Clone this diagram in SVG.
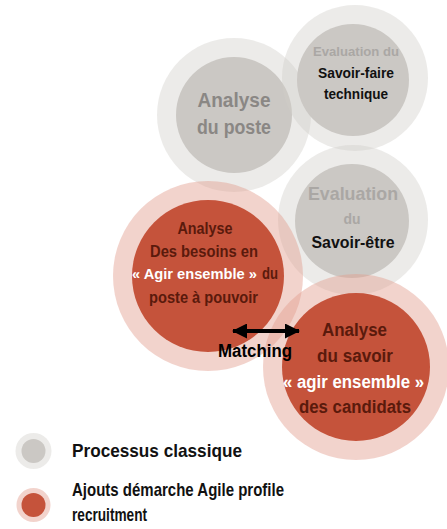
<svg xmlns="http://www.w3.org/2000/svg" width="447" height="529" viewBox="0 0 447 529">
<defs>
<style>
.go{fill:#d0ccc8;fill-opacity:.4}
.gi{fill:#cbc8c4}
.ro{fill:#e39e8e;fill-opacity:.45}
.ri{fill:#c5533b}
text{font-family:"Liberation Sans",Arial,sans-serif;font-weight:bold;text-anchor:middle}
.lg{fill:#8a8784;font-size:20px}
.sm{fill:#aaa7a4;font-size:13px}
.bk{fill:#111;font-size:15px}
.br{fill:#5a1a0c;font-size:16px}
.leg{fill:#111;font-size:19px;text-anchor:start}
</style>
<marker id="ah" viewBox="0 0 15 15" refX="14" refY="7.5" markerUnits="userSpaceOnUse" markerWidth="15" markerHeight="15" orient="auto-start-reverse"><path d="M0,0 L15,7.5 L0,15 z" fill="#000"/></marker>
</defs>
<g id="node-poste">
<circle class="go" cx="234" cy="115" r="77"/>
<circle class="gi" cx="234" cy="115" r="58"/>
<text class="lg" x="234" y="107" textLength="73" lengthAdjust="spacingAndGlyphs">Analyse</text>
<text class="lg" x="234" y="134" textLength="74" lengthAdjust="spacingAndGlyphs">du poste</text>
</g>
<g id="node-savoir-faire">
<circle class="go" cx="355" cy="78" r="73"/>
<circle class="gi" cx="353" cy="80" r="56"/>
<text class="sm" x="356" y="56" textLength="86" lengthAdjust="spacingAndGlyphs">Evaluation du</text>
<text class="bk" x="356" y="78" textLength="76" lengthAdjust="spacingAndGlyphs">Savoir-faire</text>
<text class="bk" x="356" y="99" textLength="64" lengthAdjust="spacingAndGlyphs">technique</text>
</g>
<g id="node-savoir-etre">
<circle class="go" cx="353" cy="220" r="75"/>
<circle class="gi" cx="352" cy="221" r="57"/>
<text class="sm" x="353" y="200" style="font-size:19px" textLength="90" lengthAdjust="spacingAndGlyphs">Evaluation</text>
<text class="sm" x="352" y="224" style="font-size:14px" textLength="17" lengthAdjust="spacingAndGlyphs">du</text>
<text class="bk" x="353" y="248" style="font-size:16px" textLength="83" lengthAdjust="spacingAndGlyphs">Savoir-être</text>
</g>
<g id="node-besoins">
<circle class="ro" cx="208" cy="276" r="95"/>
<circle class="ri" cx="208" cy="276" r="76"/>
<text class="br" x="205" y="234" textLength="55" lengthAdjust="spacingAndGlyphs">Analyse</text>
<text class="br" x="204" y="257" textLength="108" lengthAdjust="spacingAndGlyphs">Des besoins en</text>
<text x="132" y="279" style="font-size:14px;fill:#fff;text-anchor:start" textLength="125" lengthAdjust="spacingAndGlyphs">« Agir ensemble »</text>
<text class="br" x="262" y="279" style="text-anchor:start" textLength="16" lengthAdjust="spacingAndGlyphs">du</text>
<text class="br" x="203.5" y="303" textLength="109" lengthAdjust="spacingAndGlyphs">poste à pouvoir</text>
</g>
<g id="node-candidats">
<circle class="ro" cx="356" cy="367" r="93"/>
<circle class="ri" cx="356" cy="367" r="74"/>
<text class="br" x="354.5" y="336" style="font-size:18px" textLength="65" lengthAdjust="spacingAndGlyphs">Analyse</text>
<text class="br" x="355" y="362" style="font-size:18px" textLength="76" lengthAdjust="spacingAndGlyphs">du savoir</text>
<text x="353.5" y="388" style="font-size:18px;fill:#fff" textLength="141" lengthAdjust="spacingAndGlyphs">« agir ensemble »</text>
<text class="br" x="355" y="413" style="font-size:18px" textLength="112" lengthAdjust="spacingAndGlyphs">des candidats</text>
</g>
<g id="connectors">
<line x1="233" y1="331" x2="299" y2="331" stroke="#000" stroke-width="4" marker-start="url(#ah)" marker-end="url(#ah)"/>
<text x="255" y="357" style="font-size:18px;fill:#000" textLength="74" lengthAdjust="spacingAndGlyphs">Matching</text>
</g>
<g id="legend">
<circle class="go" cx="33.5" cy="451" r="18"/>
<circle class="gi" cx="33.5" cy="451" r="12"/>
<text class="leg" x="72" y="457" textLength="170" lengthAdjust="spacingAndGlyphs">Processus classique</text>
<circle class="ro" cx="33.5" cy="505" r="17"/>
<circle class="ri" cx="33.5" cy="505" r="12"/>
<text class="leg" x="72" y="496" textLength="212" lengthAdjust="spacingAndGlyphs">Ajouts démarche Agile profile</text>
<text class="leg" x="72" y="521" textLength="75" lengthAdjust="spacingAndGlyphs">recruitment</text>
</g>
</svg>
